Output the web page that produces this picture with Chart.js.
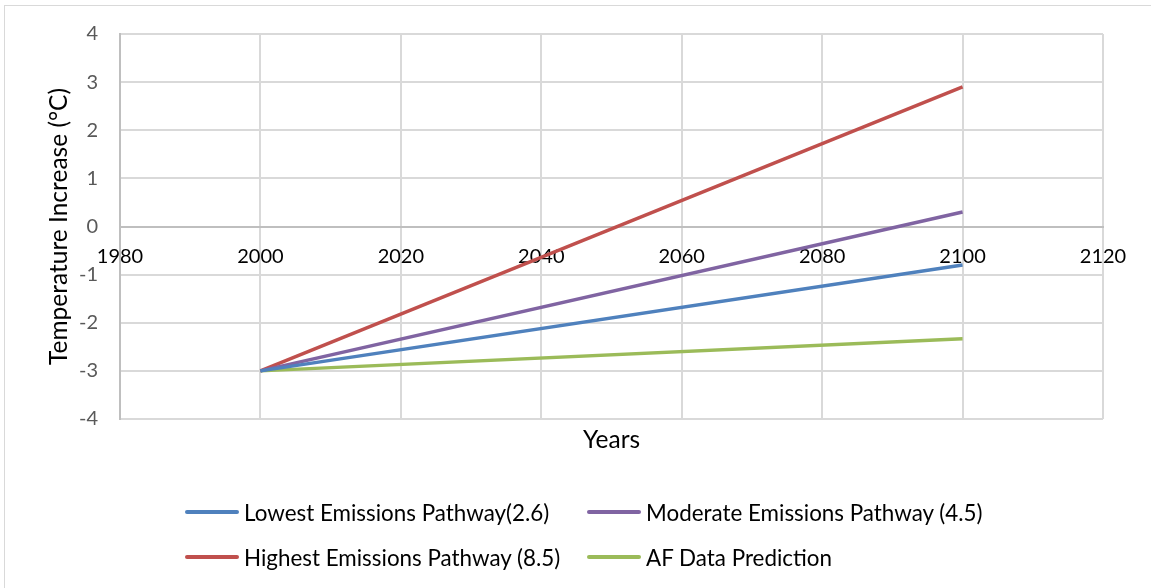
<!DOCTYPE html>
<html>
<head>
<meta charset="utf-8">
<script src="https://cdn.jsdelivr.net/npm/chart.js@4"></script>
<style>
  html, body { margin: 0; padding: 0; background: #fff; }
  #wrap { position: relative; width: 1151px; height: 588px; overflow: hidden; }
  #frame { position: absolute; left: 4px; top: 5px; width: 1160px; height: 600px;
           border-left: 1px solid #d9d9d9; border-top: 1px solid #d9d9d9; box-sizing: border-box; }
  #chartBox { position: absolute; left: 0; top: 0; width: 1151px; height: 455px; }
  #legend { position: absolute; left: 0; top: 0; width: 1151px; height: 588px; pointer-events: none;
            font-family: Lato, "Open Sans", sans-serif; font-size: 22.4px; color: #000; }
  .item { position: absolute; display: flex; align-items: center; white-space: nowrap; }
  .swatch { width: 54px; height: 4px; border-radius: 2px; margin-right: 5px; }
</style>
</head>
<body>
<div id="wrap">
  <div id="frame"></div>
  <div id="chartBox"><canvas id="c"></canvas></div>
  <div id="legend"></div>
</div>
<script>
// Years on the horizontal axis and projected temperature change per pathway
const years = [2000, 2100];
const lowest = [-3, -0.8];
const moderate = [-3, 0.3];
const highest = [-3, 2.9];
const afPrediction = [-3, -2.33];

const seriesNames = [
  'Lowest Emissions Pathway(2.6)',
  'Moderate Emissions Pathway (4.5)',
  'Highest Emissions Pathway (8.5)',
  'AF Data Prediction'
];
const seriesColors = ['#4f81bd', '#8064a2', '#c0504d', '#9bbb59'];
const seriesValues = [lowest, moderate, highest, afPrediction];

const xTicks = [1980, 2000, 2020, 2040, 2060, 2080, 2100, 2120];
const yTicks = [-4, -3, -2, -1, 0, 1, 2, 3, 4];

const FONT = 'Lato, "Open Sans", sans-serif';

const datasets = seriesNames.map((name, i) => ({
  label: name,
  data: years.map((yr, j) => ({ x: yr, y: seriesValues[i][j] })),
  borderColor: seriesColors[i],
  backgroundColor: seriesColors[i],
  borderWidth: 3.5,
  pointRadius: 0,
  tension: 0,
  xAxisID: 'x',
  yAxisID: 'y'
}));

new Chart(document.getElementById('c'), {
  type: 'line',
  data: { datasets },
  options: {
    responsive: true,
    maintainAspectRatio: false,
    animation: false,
    layout: { padding: { left: 44, right: 48, top: 25, bottom: 0 } },
    plugins: { legend: { display: false }, tooltip: { enabled: false } },
    scales: {
      x: {
        type: 'linear',
        min: xTicks[0],
        max: xTicks[xTicks.length - 1],
        position: { y: 0 },
        afterBuildTicks: s => { s.ticks = xTicks.map(v => ({ value: v })); },
        grid: { color: '#d9d9d9', lineWidth: 2, drawTicks: false },
        border: { color: '#bfbfbf', width: 2 },
        ticks: { color: '#000', padding: 18, font: { family: FONT, size: 20 }, maxRotation: 0,
                 callback: v => String(v) }
      },
      xTitle: {
        type: 'linear',
        min: xTicks[0],
        max: xTicks[xTicks.length - 1],
        position: 'bottom',
        grid: { display: false },
        border: { display: false },
        ticks: { display: false },
        title: { display: true, text: 'Years', color: '#000', font: { family: FONT, size: 24.5 }, padding: { top: 0, bottom: 0 } },
        afterFit: s => { s.height = 36; }
      },
      y: {
        min: yTicks[0],
        max: yTicks[yTicks.length - 1],
        afterBuildTicks: s => { s.ticks = yTicks.map(v => ({ value: v })); },
        grid: { color: '#d9d9d9', lineWidth: 2, drawTicks: false },
        border: { color: '#bfbfbf', width: 2 },
        ticks: { color: '#595959', padding: 22, font: { family: FONT, size: 20 } },
        title: { display: true, text: 'Temperature Increase (°C)', color: '#000', font: { family: FONT, size: 24.5 }, padding: { top: 0, bottom: 0 } },
        afterFit: s => { s.width = 76; }
      }
    }
  }
});

// Two-column legend under the chart
const legend = document.getElementById('legend');
const slots = [
  { left: 185, top: 512 }, { left: 587, top: 512 },
  { left: 185, top: 557 }, { left: 587, top: 557 }
];
seriesNames.forEach((name, i) => {
  const item = document.createElement('div');
  item.className = 'item';
  item.style.left = slots[i].left + 'px';
  item.style.top = (slots[i].top - 14) + 'px';
  item.style.height = '28px';
  const sw = document.createElement('span');
  sw.className = 'swatch';
  sw.style.background = seriesColors[i];
  const tx = document.createElement('span');
  tx.textContent = name;
  item.appendChild(sw);
  item.appendChild(tx);
  legend.appendChild(item);
});
</script>
</body>
</html>
